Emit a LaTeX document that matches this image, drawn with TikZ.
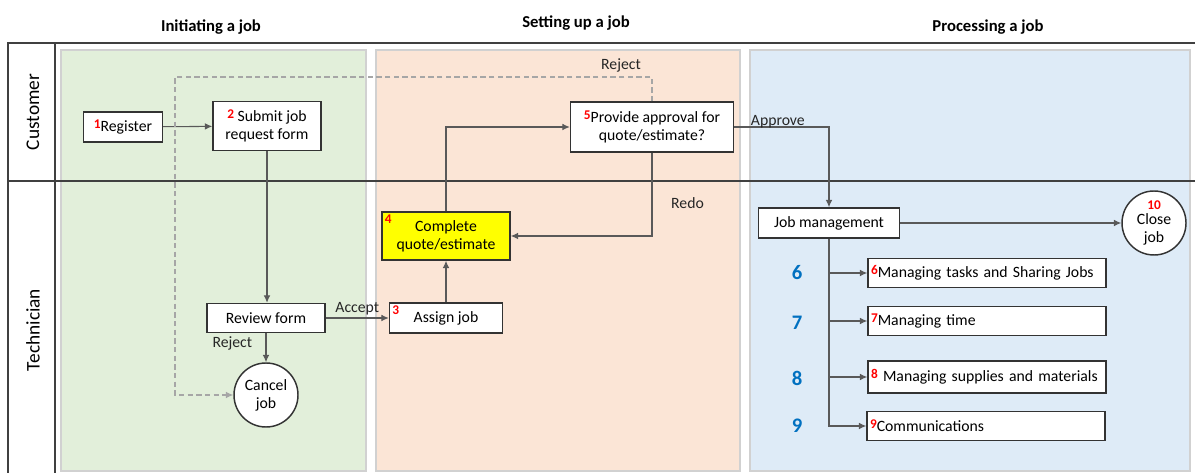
\documentclass[tikz,border=0pt]{standalone}
\usepackage{fontspec}
\setmainfont{Carlito}
\usepackage{tikz}
\usetikzlibrary{arrows.meta,positioning,calc}
\definecolor{initbg}{HTML}{E2EFDA}
\definecolor{setbg}{HTML}{FBE5D6}
\definecolor{procbg}{HTML}{DEEBF7}
\definecolor{stepblue}{HTML}{0070C0}
\definecolor{quotefill}{HTML}{FFFF00}
\newcommand{\txt}{\fontsize{11.8}{13.6}\selectfont}
\newcommand{\stepno}[1]{\textcolor{red}{\raisebox{0.4ex}{\bfseries\fontsize{10}{10}\selectfont #1}}}
\tikzset{
  phase/.style={draw=black!18, line width=0.8pt},
  frame/.style={draw=black!75, line width=1.4pt},
  task/.style={rectangle, draw=black!80, line width=1.1pt, fill=white,
               align=center, font=\txt, inner sep=1.5pt},
  item/.style={task, minimum width=178.5pt, minimum height=22pt,
               text width=174pt, align=left},
  term/.style={circle, draw=black!80, line width=1.1pt, fill=white,
               minimum size=48pt, inner sep=0pt, align=center, font=\txt},
  ar/.style={-{Latex[length=5.5pt,width=5pt]}, draw=black!65, line width=0.8pt},
  rej/.style={ar, draw=black!35, dash pattern=on 4pt off 2.5pt},
  lbl/.style={font=\txt, text=black!85, inner sep=1pt},
  hdr/.style={font=\bfseries\fontsize{12.5}{14}\selectfont},
  lane/.style={rotate=90, font=\fontsize{14.5}{16}\selectfont},
  num/.style={text=red, font=\bfseries\fontsize{10}{10}\selectfont, inner sep=2.5pt},
  bignum/.style={text=stepblue, font=\bfseries\fontsize{15.5}{17}\selectfont},
}

\begin{document}
\begin{tikzpicture}[x=0.75pt, y=-0.75pt]
\useasboundingbox (0,0) rectangle (1195,473);

% phase backgrounds
\filldraw[phase, fill=initbg] (61,50) rectangle (366,471);
\filldraw[phase, fill=setbg] (376,50) rectangle (740,471);
\filldraw[phase, fill=procbg] (750,50) rectangle (1190,471);

% swimlane frame
\draw[frame] (8,473) -- (8,43) -- (1195,43);
\draw[frame] (55,43) -- (55,473);
\draw[frame] (8,181) -- (1195,181);

\node[hdr] (h1) at (211,27) {Initiating a job};
\node[hdr] (h2) at (576,23) {Setting up a job};
\node[hdr] (h3) at (988,27) {Processing a job};
\node[lane] (cust) at (33,112) {Customer};
\node[lane] (tech) at (33,330) {Technician};

% initiating
\node[task, minimum width=59.25pt, minimum height=22.5pt] (reg) at (123,127) {\stepno{1}Register};
\node[task, minimum width=81pt, minimum height=36.75pt] (submit) at (267,126) {\stepno{2} Submit job\\request form};
\node[task, minimum width=88.5pt, minimum height=21.75pt] (review) at (266,318) {Review form};
\node[term] (cancel) at (266,395) {Cancel\\job};

% setting up
\node[task, minimum width=84.75pt, minimum height=22.5pt,
      label={[num, anchor=north west]north west:3}] (assign) at (446,318) {Assign job};
\node[task, fill=quotefill, minimum width=96pt, minimum height=36pt,
      label={[num, anchor=north west]north west:4}] (quote) at (446,236) {Complete\\quote/estimate};
\node[task, minimum width=122.25pt, minimum height=37.5pt] (approve) at (652,127) {\stepno{5}Provide approval for\\quote/estimate?};

% processing
\node[task, minimum width=105.75pt, minimum height=22.5pt] (jobmgmt) at (829,223) {Job management};
\node[term] (close) at (1154,223) {\textcolor{red}{\bfseries\fontsize{10}{8}\selectfont 10}\\[-3pt]Close\\job};
\node[item] (tasks) at (987,273) {\stepno{6}Managing tasks and Sharing Jobs};
\node[item] (time) at (987,321) {\stepno{7}Managing time};
\node[item, minimum height=24pt] (supplies) at (987,377) {\stepno{8} Managing supplies and materials};
\node[item] (comm) at (986,426) {\stepno{9}Communications};
\node[bignum] (n6) at (797,273) {6};
\node[bignum] (n7) at (797,323) {7};
\node[bignum] (n8) at (797,378) {8};
\node[bignum] (n9) at (797,426) {9};

\coordinate (rejtop) at (175,77);

\draw[ar] (reg) -- (submit);
\draw[ar] (submit.south) -- (submit.south |- review.north);
\draw[ar] (review) -- node[lbl, above=1pt]{Accept} (assign);
\draw[ar] (review) -- node[lbl, left=9pt, pos=0.35]{Reject} (cancel);
\draw[ar] (assign) -- (quote);
\draw[ar] (quote.north) |- (approve.west);
\draw[ar] (approve.south) |- node[lbl, pos=0.3, right=13pt]{Redo} (quote.east);
\draw[ar] (approve.east) -| node[lbl, pos=0.23, above=-2pt]{Approve} (jobmgmt.north);
\draw[rej] (approve.north) |- (rejtop) |- (cancel.west);
\node[lbl] (rejlbl) at (621,65) {Reject};
\draw[ar] (jobmgmt) -- (close);
\draw[ar] (jobmgmt.south) |- (comm.west);
\foreach \t in {tasks,time,supplies} \draw[ar] (jobmgmt.south |- \t.west) -- (\t.west);
\end{tikzpicture}
\end{document}
